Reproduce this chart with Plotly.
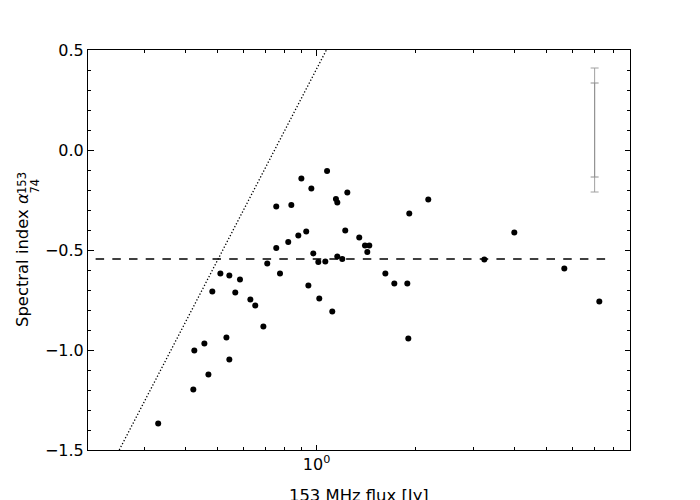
import plotly.graph_objects as go

# Data
flux_153 = [0.330, 0.422, 0.425, 0.456, 0.469, 0.482, 0.510, 0.532, 0.543, 0.543,
            0.566, 0.585, 0.629, 0.651, 0.689, 0.708, 0.754, 0.754, 0.774, 0.820,
            0.838, 0.880, 0.899, 0.930, 0.944, 0.964, 0.977, 1.012, 1.019, 1.063,
            1.076, 1.116, 1.145, 1.156, 1.156, 1.197, 1.222, 1.240, 1.348, 1.403,
            1.426, 1.446, 1.618, 1.723, 1.887, 1.913, 1.900, 2.185, 3.234, 3.990,
            5.661, 7.233]
alpha = [-1.367, -1.197, -1.002, -0.967, -1.122, -0.707, -0.617, -0.937, -0.627, -1.047,
         -0.712, -0.647, -0.747, -0.777, -0.882, -0.567, -0.282, -0.490, -0.617, -0.460,
         -0.275, -0.427, -0.142, -0.407, -0.677, -0.192, -0.517, -0.560, -0.742, -0.557,
         -0.105, -0.807, -0.245, -0.262, -0.532, -0.545, -0.402, -0.212, -0.437, -0.477,
         -0.510, -0.477, -0.617, -0.667, -0.667, -0.317, -0.942, -0.247, -0.547, -0.412,
         -0.592, -0.757]

# Detection-limit line (straight in log-linear space) endpoints
limit_flux = [0.2513, 1.071]
limit_alpha = [-1.5, 0.5]

# Mean spectral index line
mean_flux = [0.15, 7.63]
mean_alpha = [-0.545, -0.545]

# Typical error bars
err_x = [7.0]
err_y = [0.1]
err_outer = [0.31]
err_inner = [0.235]

x_major = [1.0]
x_major_text = ["10<sup>0</sup>"]
x_minor = [0.3, 0.4, 0.5, 0.6, 0.7, 0.8, 0.9, 2, 3, 4, 5, 6, 7, 8]
y_major = [-1.5, -1.0, -0.5, 0.0, 0.5]

FONT = "DejaVu Sans"

fig = go.Figure()
fig.add_trace(go.Scatter(x=limit_flux, y=limit_alpha, mode="lines",
                         line=dict(color="black", width=1.3, dash="1.3px,2px"),
                         hoverinfo="skip", showlegend=False))
fig.add_trace(go.Scatter(x=mean_flux, y=mean_alpha, mode="lines",
                         line=dict(color="black", width=1.5, dash="8.5px,8.2px"),
                         hoverinfo="skip", showlegend=False))
fig.add_trace(go.Scatter(x=err_x, y=err_y, mode="markers",
                         marker=dict(size=1, color="rgba(0,0,0,0)"),
                         error_y=dict(type="data", array=err_outer, visible=True,
                                      color="#a0a0a0", thickness=1, width=4),
                         showlegend=False))
fig.add_trace(go.Scatter(x=err_x, y=err_y, mode="markers",
                         marker=dict(size=1, color="rgba(0,0,0,0)"),
                         error_y=dict(type="data", array=err_inner, visible=True,
                                      color="#909090", thickness=1, width=4),
                         showlegend=False))
fig.add_trace(go.Scatter(x=flux_153, y=alpha, mode="markers",
                         marker=dict(size=6, color="black", line=dict(width=0)),
                         showlegend=False))

# The page body has an 8px margin, so the figure is offset by (8, 8)
fig.update_layout(
    width=692, height=492,
    margin=dict(l=80, r=70, t=42, b=50),
    paper_bgcolor="white", plot_bgcolor="white",
    font=dict(family=FONT, size=16, color="black"),
    xaxis=dict(type="log", range=[-0.6948, 0.9526], showgrid=False, zeroline=False,
               showline=True, linecolor="black", linewidth=1, mirror="ticks",
               ticks="inside", ticklen=5.5, tickwidth=1, tickcolor="black",
               tickmode="array", tickvals=x_major, ticktext=x_major_text,
               tickfont=dict(size=16),
               minor=dict(tickmode="array", tickvals=x_minor, ticks="inside",
                          ticklen=3, tickwidth=1, tickcolor="black", showgrid=False),
               automargin=False),
    yaxis=dict(range=[-1.5, 0.5], showgrid=False, zeroline=False,
               showline=True, linecolor="black", linewidth=1, mirror="ticks",
               ticks="inside", ticklen=5.5, tickwidth=1, tickcolor="black",
               tickmode="array", tickvals=y_major, tickformat=".1f",
               tickfont=dict(size=16),
               minor=dict(dtick=0.1, tick0=0, ticks="inside", ticklen=3,
                          tickwidth=1, tickcolor="black", showgrid=False),
               automargin=False),
)

# Axis titles as annotations (reference pixel -> paper conversion)
def px_to_paper_x(px):
    return (px - 88) / 542.0

def py_to_paper_y(py):
    return (450 - py) / 400.0

fig.add_annotation(text="153 MHz flux [Jy]", xref="paper", yref="paper",
                   x=px_to_paper_x(359), y=py_to_paper_y(495),
                   xanchor="center", yanchor="middle", showarrow=False,
                   font=dict(family=FONT, size=16.4, color="black"))
fig.add_annotation(text="Spectral index <i>α</i>", xref="paper", yref="paper",
                   x=px_to_paper_x(22), y=py_to_paper_y(329),
                   xanchor="center", yanchor="bottom", textangle=-90, showarrow=False,
                   font=dict(family=FONT, size=16.4, color="black"))
fig.add_annotation(text="153", xref="paper", yref="paper",
                   x=px_to_paper_x(22), y=py_to_paper_y(196),
                   xanchor="center", yanchor="bottom", textangle=-90, showarrow=False,
                   font=dict(family=FONT, size=11.5, color="black"))
fig.add_annotation(text="74", xref="paper", yref="paper",
                   x=px_to_paper_x(34), y=py_to_paper_y(196),
                   xanchor="center", yanchor="bottom", textangle=-90, showarrow=False,
                   font=dict(family=FONT, size=11.5, color="black"))

fig.write_html("out.html")
